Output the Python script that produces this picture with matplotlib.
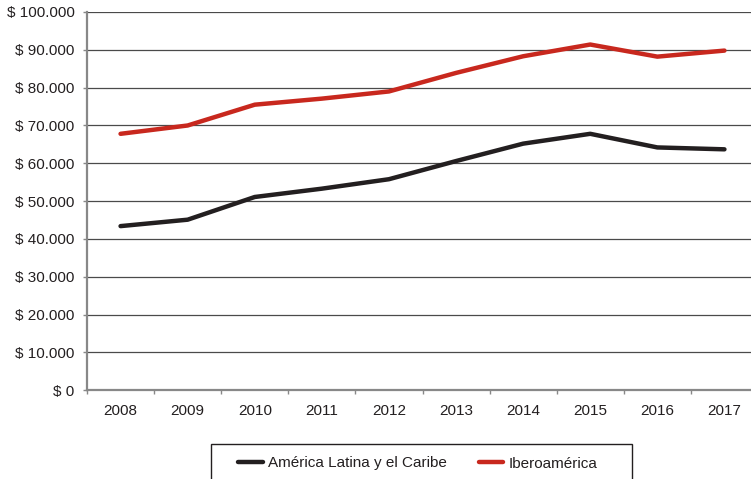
import matplotlib
matplotlib.use("Agg")
import matplotlib.pyplot as plt
from matplotlib.patches import Rectangle
from matplotlib.ticker import FuncFormatter

plt.rcParams['font.family'] = ['Liberation Sans', 'DejaVu Sans']

years = ["2008", "2009", "2010", "2011", "2012", "2013", "2014", "2015", "2016", "2017"]
america_latina = [43400, 45100, 51100, 53300, 55800, 60600, 65200, 67800, 64200, 63700]
iberoamerica = [67800, 70000, 75500, 77100, 79000, 83900, 88300, 91400, 88200, 89800]
series_names = ["América Latina y el Caribe", "Iberoamérica"]
y_ticks = list(range(0, 100001, 10000))

W, H = 751, 479
fig = plt.figure(figsize=(W / 100, H / 100), dpi=100)
ax = fig.add_axes([87 / W, 1 - 390.3 / H, 671 / W, (390.3 - 12) / H])

x = list(range(len(years)))
ax.plot(x, america_latina, color="#231f20", lw=3.2, solid_capstyle="round",
        solid_joinstyle="round", label=series_names[0], zorder=3)
ax.plot(x, iberoamerica, color="#c8281e", lw=3.2, solid_capstyle="round",
        solid_joinstyle="round", label=series_names[1], zorder=3)

ax.set_xlim(-0.5, len(years) - 0.5)
ax.set_ylim(0, 100000)
ax.set_yticks(y_ticks)
ax.yaxis.set_major_formatter(FuncFormatter(
    lambda v, p: "$ " + f"{int(v):,}".replace(",", ".")))
ax.yaxis.grid(True, color="#4a4a4a", lw=0.9)
ax.set_axisbelow(True)

# category labels between boundary ticks
ax.set_xticks([i - 0.5 for i in range(len(years) + 1)])
ax.set_xticklabels([])
ax.set_xticks(x, minor=True)
ax.set_xticklabels(years, minor=True)
ax.tick_params(axis="x", which="minor", length=0, pad=10, labelsize=11, colors="#231f20")
ax.tick_params(axis="x", which="major", length=3, width=1, color="#888888", direction="out")
ax.tick_params(axis="y", length=3, width=1, color="#888888", labelsize=11,
               labelcolor="#231f20", pad=6)

for s in ("top", "right"):
    ax.spines[s].set_visible(False)
for s in ("left", "bottom"):
    ax.spines[s].set_color("#888888")
    ax.spines[s].set_linewidth(1.6)

# legend box, running past the bottom edge
fig.patches.append(Rectangle((211 / W, -0.05), (632 - 211) / W, 0.05 + (1 - 444 / H),
                             transform=fig.transFigure, fill=False,
                             edgecolor="#231f20", lw=1.0))
leg = fig.legend(loc="center", bbox_to_anchor=(418 / W, 1 - 463.5 / H),
                 ncol=2, frameon=False, fontsize=11, handlelength=1.6,
                 handletextpad=0.35, borderaxespad=0, borderpad=0,
                 columnspacing=2.1)
for t in leg.get_texts():
    t.set_color("#231f20")

fig.savefig("out.png", dpi=100)
